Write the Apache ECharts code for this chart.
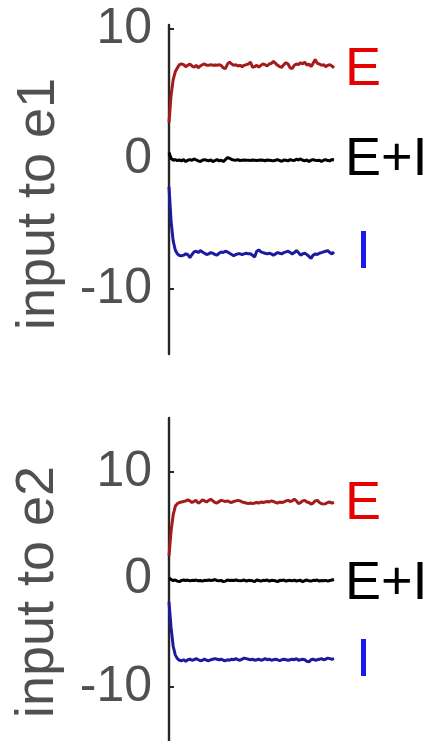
<!DOCTYPE html>
<html><head><meta charset="utf-8">
<script src="https://cdn.jsdelivr.net/npm/echarts@6/dist/echarts.min.js"></script>
<style>html,body{margin:0;padding:0;background:#fff;overflow:hidden}#c{width:427px;height:741px}</style>
</head><body><div id="c"></div>
<script>
// ---- data ----
const yTicks = [-10, 0, 10];
const labelsTop = ['input to e1'];
const labelsBottom = ['input to e2'];
const traceNames = ['E', 'E+I', 'I'];

const e1_E = [2.8,4.9,6.1,6.7,7.0,7.25,7.3,7.25,7.1,7.2,7.3,7.15,7.05,7.2,7.0,7.15,7.25,7.3,7.2,7.2,7.25,7.2,7.22,7.2,7.25,7.18,7.0,6.95,7.3,7.45,7.3,7.2,7.25,7.15,7.2,7.1,7.2,7.25,7.3,7.45,7.05,7.1,7.2,7.05,7.2,7.3,7.25,7.15,7.3,7.35,7.5,7.35,7.2,7.1,7.05,7.25,7.4,7.3,7.0,6.95,7.2,7.3,7.25,7.4,7.3,7.45,7.2,7.3,7.1,7.35,7.65,7.35,7.3,7.2,7.25,7.1,7.2,7.25,7.15,7.0];
const e1_EI = [0.5,0.05,-0.1,-0.05,-0.12,-0.08,-0.15,-0.05,-0.2,-0.1,-0.05,-0.1,0.0,-0.08,-0.15,-0.2,-0.1,-0.05,-0.1,-0.15,-0.08,-0.2,-0.12,-0.05,-0.15,-0.1,-0.2,-0.05,0.1,0.05,-0.05,-0.08,-0.1,-0.05,-0.12,-0.1,-0.08,-0.1,-0.1,-0.12,-0.08,-0.1,-0.12,-0.1,-0.08,-0.1,-0.14,-0.08,-0.1,-0.12,-0.15,-0.1,-0.05,-0.12,-0.18,-0.08,-0.1,-0.15,-0.05,-0.1,-0.12,-0.02,-0.08,0.0,-0.1,-0.15,-0.08,-0.2,-0.1,-0.05,-0.1,-0.12,-0.1,-0.2,-0.1,-0.05,-0.12,-0.15,-0.05,-0.08];
const e1_I = [-2.15,-4.8,-6.3,-7.0,-7.3,-7.42,-7.45,-7.4,-7.3,-7.35,-7.6,-7.35,-7.15,-7.1,-7.2,-7.05,-7.15,-7.25,-7.35,-7.3,-7.2,-7.25,-7.35,-7.4,-7.25,-7.15,-7.2,-7.1,-7.15,-7.25,-7.35,-7.45,-7.35,-7.3,-7.3,-7.35,-7.3,-7.25,-7.3,-7.3,-7.4,-7.55,-7.1,-7.0,-7.15,-7.2,-7.25,-7.3,-7.25,-7.3,-7.4,-7.3,-7.2,-7.25,-7.3,-7.2,-7.15,-7.1,-7.2,-7.3,-7.2,-7.05,-7.2,-7.4,-7.3,-7.25,-7.35,-7.5,-7.65,-7.4,-7.3,-7.35,-7.25,-7.2,-7.15,-7.1,-7.05,-7.2,-7.3,-7.15];

const e2_E = [2.2,4.5,6.0,6.8,7.05,7.15,7.2,7.25,7.3,7.4,7.3,7.15,7.25,7.35,7.1,7.2,7.4,7.3,7.2,7.35,7.45,7.3,7.15,7.1,7.25,7.35,7.3,7.25,7.3,7.2,7.15,7.25,7.3,7.35,7.3,7.2,7.15,7.1,7.05,7.1,7.05,7.1,7.15,7.1,7.2,7.15,7.2,7.25,7.2,7.3,7.25,7.15,7.1,7.2,7.15,7.2,7.3,7.35,7.25,7.3,7.45,7.3,7.05,7.15,7.3,7.35,7.2,7.15,7.0,7.1,7.3,7.35,7.15,7.05,7.0,7.05,7.15,7.2,7.1,7.15];
const e2_EI = [0.15,0.0,-0.1,-0.05,-0.15,-0.2,-0.08,-0.05,-0.1,-0.05,-0.12,-0.08,-0.1,-0.05,-0.12,-0.1,-0.15,-0.08,-0.1,-0.05,-0.1,-0.08,0.0,-0.1,-0.12,-0.08,-0.2,-0.15,-0.05,-0.1,-0.08,-0.1,-0.05,-0.1,-0.12,-0.1,-0.05,-0.15,-0.08,-0.1,-0.12,-0.2,-0.05,-0.1,-0.15,-0.08,-0.1,-0.05,-0.15,-0.08,-0.1,-0.12,-0.2,-0.08,-0.1,-0.05,-0.15,-0.1,-0.08,-0.12,-0.05,-0.15,-0.1,-0.08,-0.2,-0.1,-0.05,-0.12,-0.15,-0.08,-0.1,-0.05,-0.15,-0.1,-0.12,-0.08,-0.15,-0.1,-0.05,0.0];
const e2_I = [-2.1,-4.5,-6.2,-7.0,-7.35,-7.5,-7.55,-7.45,-7.6,-7.45,-7.4,-7.5,-7.45,-7.35,-7.45,-7.55,-7.5,-7.4,-7.5,-7.55,-7.45,-7.4,-7.35,-7.4,-7.45,-7.4,-7.5,-7.55,-7.45,-7.5,-7.4,-7.45,-7.35,-7.45,-7.5,-7.4,-7.3,-7.35,-7.4,-7.45,-7.4,-7.5,-7.45,-7.4,-7.5,-7.45,-7.35,-7.45,-7.4,-7.5,-7.45,-7.4,-7.45,-7.55,-7.45,-7.4,-7.45,-7.5,-7.45,-7.4,-7.45,-7.35,-7.5,-7.45,-7.4,-7.45,-7.6,-7.65,-7.45,-7.4,-7.5,-7.45,-7.4,-7.35,-7.45,-7.4,-7.3,-7.35,-7.4,-7.35];

// ---- chart ----
const FONT = '"Liberation Sans", Arial, Helvetica, sans-serif';
const RED = '#a51b1b', BLUE = '#1b1ba0', BLACK = '#000000';
const pair = arr => arr.map((v, i) => [i, v]);

function yAxisCfg(gi, min, max) {
  return {
    type: 'value', gridIndex: gi, min: min, max: max,
    axisLine: { show: true, lineStyle: { color: '#262626', width: 2.4 } },
    axisTick: { show: true, inside: true, length: 5, customValues: yTicks, lineStyle: { color: '#262626', width: 2 } },
    axisLabel: { customValues: yTicks, fontSize: 50, color: '#505050', fontFamily: FONT, margin: 17 },
    splitLine: { show: false }
  };
}
function xAxisCfg(gi, n) {
  return { type: 'value', gridIndex: gi, min: 0, max: n - 1, show: false };
}
function line(name, gi, data, color) {
  return {
    name: name, type: 'line', xAxisIndex: gi, yAxisIndex: gi, data: pair(data),
    showSymbol: false, smooth: false, lineStyle: { color: color, width: 3 }, animation: false, z: 3
  };
}
function txt(x, y, s, color, size, rot) {
  return {
    type: 'text', x: x, y: y, rotation: rot || 0,
    style: { text: s, fill: color, fontSize: size, fontFamily: FONT,
      textAlign: rot ? 'center' : 'left', textVerticalAlign: 'middle' }
  };
}

const chart = echarts.init(document.getElementById('c'), null, { renderer: 'canvas' });
chart.setOption({
  animation: false,
  backgroundColor: '#ffffff',
  grid: [
    { left: 169, top: 25, width: 165, height: 329 },
    { left: 169, top: 418, width: 165, height: 328.5 }
  ],
  xAxis: [xAxisCfg(0, e1_E.length), xAxisCfg(1, e2_E.length)],
  yAxis: [yAxisCfg(0, -15, 10.3), yAxisCfg(1, -15, 15)],
  series: [
    line(traceNames[0], 0, e1_E, RED),
    line(traceNames[1], 0, e1_EI, BLACK),
    line(traceNames[2], 0, e1_I, BLUE),
    line(traceNames[0], 1, e2_E, RED),
    line(traceNames[1], 1, e2_EI, BLACK),
    line(traceNames[2], 1, e2_I, BLUE)
  ],
  graphic: [
    txt(345, 70, traceNames[0], '#e60000', 54),
    txt(345, 160, traceNames[1], '#000000', 54),
    txt(356, 253, traceNames[2], '#1a1aee', 54),
    txt(345, 504, traceNames[0], '#e60000', 54),
    txt(345, 584, traceNames[1], '#000000', 54),
    txt(356, 661, traceNames[2], '#1a1aee', 54),
    txt(39, 204, labelsTop[0], '#505050', 54, Math.PI / 2),
    txt(38, 592, labelsBottom[0], '#505050', 54, Math.PI / 2)
  ]
});
</script></body></html>
